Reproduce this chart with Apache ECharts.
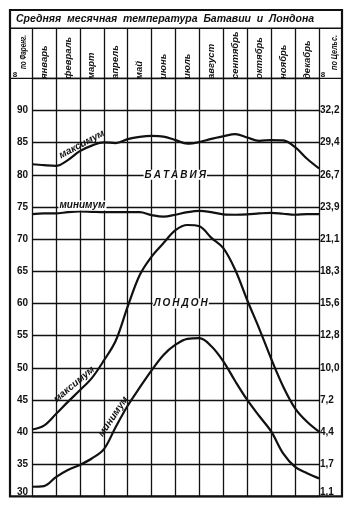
<!DOCTYPE html>
<html>
<head>
<meta charset="utf-8">
<script src="https://cdn.jsdelivr.net/npm/echarts@6/dist/echarts.min.js"></script>
<style>
  html, body { margin: 0; padding: 0; background: #fff; }
  #chart { width: 354px; height: 508px; }
</style>
</head>
<body>
<div id="chart"></div>
<script>
// months (columns of the table)
const months = ['январь', 'февраль', 'март', 'апрель', 'май', 'июнь', 'июль',
  'август', 'сентябрь', 'октябрь', 'ноябрь', 'декабрь']
// sample positions along the year, in month widths from the start of January
const xs = [0, 0.5, 1, 1.5, 2, 2.5, 3, 3.5, 4, 4.5, 5, 5.5, 6, 6.5, 7, 7.5, 8, 8.5, 9, 9.5, 10, 10.5, 11, 11.5, 12]
// degrees Fahrenheit
const bataviaMax = [81.65, 81.5, 81.4, 82.3, 83.7, 84.55, 85.05, 84.95, 85.55, 85.9, 86.05, 85.95, 85.4,
  84.85, 85.1, 85.6, 86.0, 86.35, 85.8, 85.3, 85.4, 85.35, 84.3, 82.5, 81.0]
const bataviaMin = [73.9, 74.0, 74.0, 74.2, 74.3, 74.25, 74.2, 74.2, 74.2, 74.2, 73.75, 73.5, 73.8,
  74.2, 74.4, 74.2, 73.85, 73.8, 73.85, 74.0, 74.1, 73.95, 73.8, 73.9, 73.9]
const londonMax = [40.4, 41.0, 42.8, 44.7, 46.5, 48.4, 51.1, 54.2, 59.5, 64.4, 67.3, 69.4, 71.4,
  72.2, 72.0, 70.2, 68.6, 65.2, 60.5, 56.1, 51.4, 47.1, 43.7, 41.6, 40.06]
const londonMin = [31.5, 31.6, 33.0, 34.1, 34.9, 35.9, 37.3, 40.8, 44.1, 46.9, 49.6, 52.0, 53.6,
  54.5, 54.6, 53.35, 51.0, 47.9, 45.0, 42.5, 40.1, 36.7, 34.6, 33.6, 32.8]
// right hand scale, one label per 5 °F from 30 up to 90
const celsiusLabels = ['1,1', '1,7', '4,4', '7,2', '10,0', '12,8', '15,6', '18,3', '21,1', '23,9', '26,7', '29,4', '32,2']

const title = 'Средняя месячная температура Батавии и Лондона'

const chart = echarts.init(document.getElementById('chart'), null, { renderer: 'canvas' })

const ink = '#111'
const fontFam = '"Liberation Sans", Arial, sans-serif'

function spaced(s, sep) {
  return sep ? s.split('').join(sep) : s
}

function toPairs(arr) {
  return xs.map((x, i) => [x, arr[i]])
}

function lineSeries(name, arr) {
  return {
    name,
    type: 'line',
    xAxisIndex: 0,
    yAxisIndex: 0,
    data: toPairs(arr),
    smooth: 0.35,
    symbol: 'none',
    silent: true,
    lineStyle: { color: ink, width: 2.2 },
    z: 5
  }
}

const labelFont = { fontSize: 10, fontWeight: 'bold', fontFamily: fontFam, color: ink }

const option = {
  animation: false,
  backgroundColor: '#fff',
  grid: [
    { left: 32, right: 35, top: 78.4, bottom: 11.6 },
    { left: 32, right: 35, top: 28.3, height: 50.1 }
  ],
  xAxis: [
    {
      gridIndex: 0, type: 'value', min: 0, max: 12, interval: 1,
      axisLine: { show: false }, axisTick: { show: false }, axisLabel: { show: false },
      splitLine: { show: true, lineStyle: { color: ink, width: 1.3 } }
    },
    {
      gridIndex: 1, type: 'value', min: 0, max: 12, interval: 1,
      axisLine: { show: false }, axisTick: { show: false }, axisLabel: { show: false },
      splitLine: { show: true, lineStyle: { color: ink, width: 1.3 } }
    }
  ],
  yAxis: [
    {
      gridIndex: 0, type: 'value', min: 30, max: 95, interval: 5, position: 'left',
      axisLine: { show: false }, axisTick: { show: false },
      splitLine: { show: true, lineStyle: { color: ink, width: 1.3 } },
      axisLabel: {
        margin: 4, ...labelFont,
        formatter: v => v === 95 ? '' : (v === 30 ? '{low|30}' : String(v)),
        rich: { low: { ...labelFont, padding: [0, 0, 9, 0] } }
      }
    },
    {
      gridIndex: 0, type: 'value', min: 30, max: 95, interval: 5, position: 'right',
      axisLine: { show: false }, axisTick: { show: false }, splitLine: { show: false },
      axisLabel: {
        margin: 1, ...labelFont,
        formatter: v => {
          if (v === 95) return ''
          const s = celsiusLabels[(v - 30) / 5]
          return v === 30 ? '{low|' + s + '}' : s
        },
        rich: { low: { ...labelFont, padding: [0, 0, 9, 0] } }
      }
    },
    { gridIndex: 1, type: 'value', show: false, min: 0, max: 1 }
  ],
  series: [
    lineSeries('Батавия максимум', bataviaMax),
    lineSeries('Батавия минимум', bataviaMin),
    lineSeries('Лондон максимум', londonMax),
    lineSeries('Лондон минимум', londonMin)
  ]
}

chart.setOption(option)

// pixel helpers from the chart's own scales
const px = (x, y) => chart.convertToPixel({ xAxisIndex: 0, yAxisIndex: 0 }, [x, y])
const hx = x => chart.convertToPixel({ xAxisIndex: 1 }, x)

const graphics = []
const plotTop = px(0, 95)[1]
const plotBottom = px(0, 30)[1]

// frame and header rules
graphics.push({ type: 'rect', shape: { x: 10, y: 10, width: 332, height: plotBottom - 10 }, style: { fill: 'none', stroke: ink, lineWidth: 2.2 }, z: 20 })
graphics.push({ type: 'line', shape: { x1: 10, y1: 28.3, x2: 342, y2: 28.3 }, style: { stroke: ink, lineWidth: 1.6 }, z: 20 })
graphics.push({ type: 'line', shape: { x1: 10, y1: plotTop, x2: 342, y2: plotTop }, style: { stroke: ink, lineWidth: 1.3 }, z: 20 })

// title
graphics.push({
  type: 'text', x: 16, y: 19.5, z: 20,
  style: {
    text: title.split(' ').join('  '),
    fontSize: 10.5, fontStyle: 'italic', fontWeight: 'bold', fontFamily: fontFam, fill: ink,
    align: 'left', verticalAlign: 'middle'
  }
})

// month headers, rotated to read upwards
const headFont = { fontSize: 9.5, fontStyle: 'italic', fontWeight: 'bold', fontFamily: fontFam, fill: ink }
months.forEach((m, i) => {
  graphics.push({
    type: 'text', x: hx(i + 0.5), y: 79, rotation: Math.PI / 2, z: 20,
    style: { text: m, ...headFont, align: 'left', verticalAlign: 'middle' }
  })
})
// scale side column captions, squeezed along the text to fit the cell
graphics.push({
  type: 'text', x: 24, y: 69, rotation: Math.PI / 2, scaleX: 0.7, z: 20,
  style: { text: 'по Фаренг.', ...headFont, fontSize: 9, align: 'left', verticalAlign: 'middle' }
})
graphics.push({
  type: 'text', x: hx(12) + 16, y: 70, rotation: Math.PI / 2, scaleX: 0.8, z: 20,
  style: { text: 'по Цельс.', ...headFont, fontSize: 9, align: 'left', verticalAlign: 'middle' }
})
graphics.push({ type: 'text', x: 15, y: 75, z: 20, style: { text: '8', fontSize: 8, fontWeight: 'bold', fontFamily: fontFam, fill: ink, align: 'center', verticalAlign: 'middle' } })
graphics.push({ type: 'text', x: hx(12) + 4, y: 75, z: 20, style: { text: '8', fontSize: 8, fontWeight: 'bold', fontFamily: fontFam, fill: ink, align: 'center', verticalAlign: 'middle' } })

// names inside the plot
const nameFont = { fontSize: 10, fontStyle: 'italic', fontWeight: 'bold', fontFamily: fontFam, fill: ink }
function plotText(text, x, y, angle, bg, sep) {
  const p = px(x, y)
  graphics.push({
    type: 'text', x: p[0], y: p[1], rotation: angle * Math.PI / 180, z: 20,
    style: {
      text: spaced(text, sep), ...nameFont, align: 'center', verticalAlign: 'middle',
      backgroundColor: bg ? '#fff' : null, padding: bg ? [0, 1] : 0
    }
  })
}
plotText('БАТАВИЯ', 5.99, 80, 0, true, '\u2009')
plotText('ЛОНДОН', 6.22, 60, 0, true, '\u2009')
plotText('максимум', 2.08, 84.75, 28, false)
plotText('минимум', 2.11, 75.25, 0, true)
plotText('максимум', 1.76, 47.4, 40, false)
plotText('минимум', 3.4, 42.4, 56, false)

chart.setOption({ graphic: graphics })
</script>
</body>
</html>
